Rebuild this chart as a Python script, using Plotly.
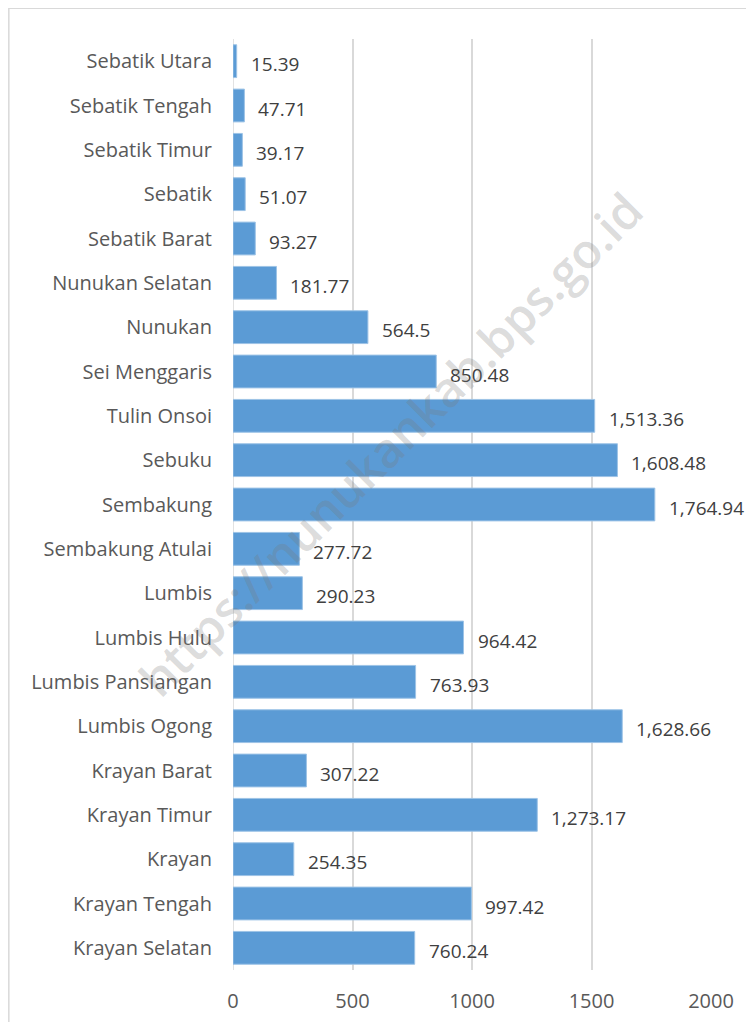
# Horizontal bar chart: area (km2) per kecamatan, Kabupaten Nunukan
import plotly.graph_objects as go

districts = ["Sebatik Utara", "Sebatik Tengah", "Sebatik Timur", "Sebatik", "Sebatik Barat",
             "Nunukan Selatan", "Nunukan", "Sei Menggaris", "Tulin Onsoi", "Sebuku",
             "Sembakung", "Sembakung Atulai", "Lumbis", "Lumbis Hulu", "Lumbis Pansiangan",
             "Lumbis Ogong", "Krayan Barat", "Krayan Timur", "Krayan", "Krayan Tengah",
             "Krayan Selatan"]
area = [15.39, 47.71, 39.17, 51.07, 93.27,
        181.77, 564.5, 850.48, 1513.36, 1608.48,
        1764.94, 277.72, 290.23, 964.42, 763.93,
        1628.66, 307.22, 1273.17, 254.35, 997.42,
        760.24]
x_ticks = [0, 500, 1000, 1500, 2000]
watermark = "https://nunukankab.bps.go.id"

FONT = "Open Sans"

fig = go.Figure()
fig.add_trace(go.Bar(x=area, y=districts, orientation="h",
                     marker=dict(color="#5B9BD5", line=dict(color="#9DC3E6", width=1)),
                     width=0.74, hoverinfo="x+y"))

# value labels just right of each bar, sitting a bit below centre
for d, v in zip(districts, area):
    fig.add_annotation(x=v, y=d, text=f"{v:,}", showarrow=False, xanchor="left",
                       xshift=12, yshift=-3, font=dict(family=FONT, size=19, color="#404040"))

fig.add_annotation(xref="paper", yref="paper", x=0.33, y=0.565, text=watermark,
                   xanchor="center", yanchor="middle", textangle=-45, showarrow=False,
                   font=dict(family=FONT, size=48, weight=600, color="rgba(120,120,120,0.27)"))

# outer chart border (the page body adds an 8px offset)
fig.add_shape(type="rect", xref="paper", yref="paper", x0=-0.469, x1=1.2, y0=-0.06, y1=1.033,
              line=dict(color="#d9d9d9", width=1.5), layer="below")

fig.update_layout(
    width=746, height=1014, margin=dict(l=225, r=43, t=31, b=52, autoexpand=False),
    paper_bgcolor="white", plot_bgcolor="white", showlegend=False,
    xaxis=dict(range=[0, 2000], tickvals=x_ticks, showgrid=True, gridcolor="#d9d9d9", gridwidth=1.5,
               zeroline=False, showline=False, ticks="outside", ticklen=13, tickcolor="rgba(0,0,0,0)",
               automargin=False, tickfont=dict(family=FONT, size=20, color="#595959")),
    yaxis=dict(autorange="reversed", showgrid=False, zeroline=False, showline=False,
               ticks="outside", ticklen=16, tickcolor="rgba(0,0,0,0)", automargin=False,
               tickfont=dict(family=FONT, size=20, color="#595959")),
)
fig.add_vline(x=0, line=dict(color="#d9d9d9", width=1.5), layer="below")

fig.write_html("out.html")
